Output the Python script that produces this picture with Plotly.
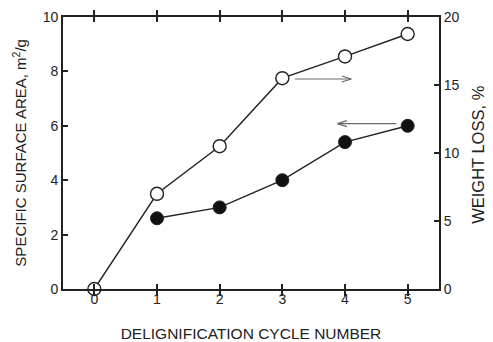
import plotly.graph_objects as go

# Delignification cycle data
cycles = [0, 1, 2, 3, 4, 5]
weight_loss = [0.0, 7.0, 10.5, 15.5, 17.1, 18.75]          # %, right axis
surface_cycles = [1, 2, 3, 4, 5]
surface_area = [2.6, 3.0, 4.0, 5.4, 6.0]                   # m2/g, left axis

x_ticks = [0, 1, 2, 3, 4, 5]
y_left_ticks = [0, 2, 4, 6, 8, 10]
y_right_ticks = [0, 5, 10, 15, 20]

FONT = "Liberation Sans, Arial, sans-serif"
INK = "#222222"
ARROW = "#6a6a6a"

fig = go.Figure()

fig.add_trace(go.Scatter(
    x=cycles, y=weight_loss, yaxis="y2", mode="lines+markers",
    line=dict(color=INK, width=1.4),
    marker=dict(size=13, color="white", line=dict(color=INK, width=1.4)),
    cliponaxis=False, showlegend=False))

fig.add_trace(go.Scatter(
    x=surface_cycles, y=surface_area, mode="lines+markers",
    line=dict(color=INK, width=1.4),
    marker=dict(size=13, color="#111111", line=dict(color=INK, width=1)),
    cliponaxis=False, showlegend=False))


def arrow(x0, x1, y, color=ARROW):
    """Thin open-headed arrow from x0 to x1 at height y (left-axis units)."""
    dx = 0.15 if x1 < x0 else -0.15
    dy = 0.11
    segs = [(x0, y, x1, y), (x1, y, x1 + dx, y + dy), (x1, y, x1 + dx, y - dy)]
    for a, b, c, d in segs:
        fig.add_shape(type="line", xref="x", yref="y", x0=a, y0=b, x1=c, y1=d,
                      line=dict(color=color, width=1.2))


arrow(3.2, 4.1, 7.72)   # points to weight-loss axis
arrow(4.82, 3.88, 6.08)  # points to surface-area axis

axis_common = dict(
    showgrid=False, zeroline=False, showline=True, linecolor=INK, linewidth=1.8,
    ticks="inside", ticklen=5, tickwidth=1.5, tickcolor=INK, automargin=False,
    tickfont=dict(family=FONT, size=14, color=INK),
)

# Vertical axis titles placed as rotated annotations
fig.add_annotation(text="SPECIFIC SURFACE AREA, m<sup>2</sup>/g", textangle=-90,
                   xref="paper", yref="paper", x=-0.118, y=0.5,
                   xanchor="center", yanchor="middle", showarrow=False,
                   font=dict(family=FONT, size=15, color=INK))
fig.add_annotation(text="WEIGHT LOSS, %", textangle=-90,
                   xref="paper", yref="paper", x=1.105, y=0.495,
                   xanchor="center", yanchor="middle", showarrow=False,
                   font=dict(family=FONT, size=16.5, color=INK))

fig.update_layout(
    width=493, height=342,
    margin=dict(l=63, r=54, t=17, b=53),
    plot_bgcolor="white", paper_bgcolor="white",
    xaxis=dict(range=[-0.5, 5.5], tickvals=x_ticks, mirror="allticks",
               ticklabelstandoff=-4,
               title=dict(text="DELIGNIFICATION CYCLE NUMBER", standoff=23,
                          font=dict(family=FONT, size=15.5, color=INK)),
               **axis_common),
    yaxis=dict(range=[0, 10], tickvals=y_left_ticks, **axis_common),
    yaxis2=dict(range=[0, 20], tickvals=y_right_ticks, overlaying="y", side="right",
                **axis_common),
)

fig.write_html("out.html")
